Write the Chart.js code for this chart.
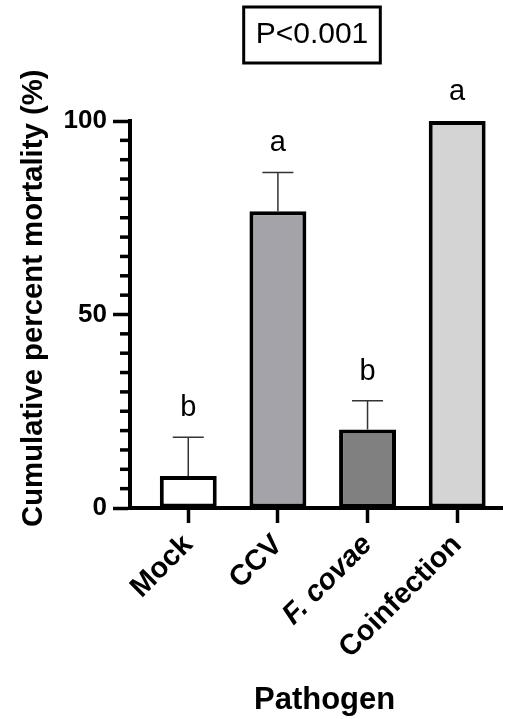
<!DOCTYPE html>
<html>
<head>
<meta charset="utf-8">
<script src="https://cdn.jsdelivr.net/npm/chart.js@4.4.1/dist/chart.umd.min.js"></script>
<style>
  html, body { margin: 0; padding: 0; background: #fff; }
  #wrap { width: 508px; height: 719px; }
</style>
</head>
<body>
<div id="wrap"><canvas id="mortalityChart" width="508" height="719"></canvas></div>
<script>
// ========== DATA ==========
const pathogens = ["Mock", "CCV", "F. covae", "Coinfection"];
const mortality = [8.3, 76.7, 20.3, 100];
const errorUp = [10, 10, 7.4, 0];
const letters = ["b", "a", "b", "a"];
const barColors = ["#ffffff", "#a3a3a9", "#808080", "#d4d4d4"];
const yMajorTicks = [0, 50, 100];
const yMinorTicks = [5, 10, 15, 20, 25, 30, 35, 40, 45, 55, 60, 65, 70, 75, 80, 85, 90, 95];
const pValueText = "P<0.001";

const FONT = "'Liberation Sans', Arial, sans-serif";

// ========== PLUGIN: error bars, letters, minor ticks, p-value box ==========
const extras = {
    id: "extras",
    afterDatasetsDraw(chart) {
        const ctx = chart.ctx;
        const xs = chart.scales.x;
        const ys = chart.scales.y;

        // error bars (upper only)
        ctx.save();
        ctx.strokeStyle = "#333";
        ctx.lineWidth = 1.5;
        mortality.forEach((v, i) => {
            if (!errorUp[i]) return;
            const cx = xs.getPixelForValue(i);
            const y0 = ys.getPixelForValue(v);
            const y1 = ys.getPixelForValue(v + errorUp[i]);
            ctx.beginPath();
            ctx.moveTo(cx, y0);
            ctx.lineTo(cx, y1);
            ctx.moveTo(cx - 15.5, y1);
            ctx.lineTo(cx + 15.5, y1);
            ctx.stroke();
        });
        ctx.restore();
    },
    afterDraw(chart) {
        const ctx = chart.ctx;
        const xs = chart.scales.x;
        const ys = chart.scales.y;
        const area = chart.chartArea;

        // significance letters
        ctx.save();
        ctx.fillStyle = "#000";
        ctx.font = "29px " + FONT;
        ctx.textAlign = "center";
        ctx.textBaseline = "alphabetic";
        letters.forEach((t, i) => {
            const cx = xs.getPixelForValue(i);
            const top = ys.getPixelForValue(mortality[i] + errorUp[i]);
            ctx.fillText(t, cx, top - 21);
        });
        ctx.restore();

        // minor ticks on the y axis
        ctx.save();
        ctx.fillStyle = "#000";
        yMinorTicks.forEach((v) => {
            const py = ys.getPixelForValue(v);
            ctx.fillRect(area.left - 10, py - 1.75, 10, 3.5);
        });
        ctx.restore();

        // p-value box
        ctx.save();
        ctx.font = "30px " + FONT;
        ctx.fillStyle = "#000";
        ctx.textAlign = "center";
        ctx.textBaseline = "middle";
        const tx = (area.left + area.right) / 2 - 4;
        const ty = 35;
        const w = ctx.measureText(pValueText).width;
        ctx.fillText(pValueText, tx, ty);
        ctx.lineWidth = 3;
        ctx.strokeStyle = "#000";
        ctx.strokeRect(tx - w / 2 - 12, 7, w + 24, 56);
        ctx.restore();
    }
};

// ========== CHART ==========
document.addEventListener("DOMContentLoaded", () => {
    const ctx = document.getElementById("mortalityChart").getContext("2d");

    new Chart(ctx, {
        type: "bar",
        data: {
            datasets: [
                {
                    data: mortality.map((v, i) => ({ x: i, y: v })),
                    backgroundColor: barColors,
                    borderColor: "#000",
                    borderWidth: 4,
                    borderSkipped: false,
                    categoryPercentage: 1,
                    barPercentage: 0.635
                }
            ]
        },
        options: {
            responsive: false,
            animation: false,
            layout: { padding: { top: 121, left: 0, right: 6, bottom: 0 } },
            plugins: {
                legend: { display: false },
                tooltip: { enabled: false },
                title: { display: false }
            },
            scales: {
                x: {
                    type: "linear",
                    min: -0.65,
                    max: 3.5,
                    offset: false,
                    afterBuildTicks: (s) => {
                        s.ticks = pathogens.map((_, i) => ({ value: i }));
                    },
                    afterFit: (s) => {
                        s.height = 211;
                        s.paddingLeft = 0;
                        s.paddingRight = 0;
                    },
                    grid: {
                        drawOnChartArea: false,
                        offset: false,
                        tickLength: 15,
                        tickWidth: 3.5,
                        tickColor: "#000"
                    },
                    border: { color: "#000", width: 4 },
                    ticks: {
                        autoSkip: false,
                        minRotation: 45,
                        maxRotation: 45,
                        padding: 5,
                        color: "#000",
                        font: (c) => ({
                            family: FONT,
                            size: 29,
                            weight: "bold",
                            style: c.index === 2 ? "italic" : "normal"
                        }),
                        callback: (v) => pathogens[v]
                    },
                    title: {
                        display: true,
                        text: "  Pathogen",
                        color: "#000",
                        font: { family: FONT, size: 31, weight: "bold" },
                        padding: { top: 0, bottom: 0 }
                    }
                },
                y: {
                    min: 0,
                    max: 100,
                    afterBuildTicks: (s) => {
                        s.ticks = yMajorTicks.map((v) => ({ value: v }));
                    },
                    afterFit: (s) => {
                        s.width = 130;
                    },
                    grid: {
                        drawOnChartArea: false,
                        tickLength: 17,
                        tickWidth: 3.5,
                        tickColor: "#000"
                    },
                    border: { color: "#000", width: 4 },
                    ticks: {
                        padding: 6,
                        color: "#000",
                        font: { family: FONT, size: 26, weight: "bold" }
                    },
                    title: {
                        display: true,
                        text: "    Cumulative percent mortality (%)",
                        color: "#000",
                        font: { family: FONT, size: 29.3, weight: "bold" },
                        padding: { top: 16, bottom: 0 }
                    }
                }
            }
        },
        plugins: [extras]
    });
});
</script>
</body>
</html>
